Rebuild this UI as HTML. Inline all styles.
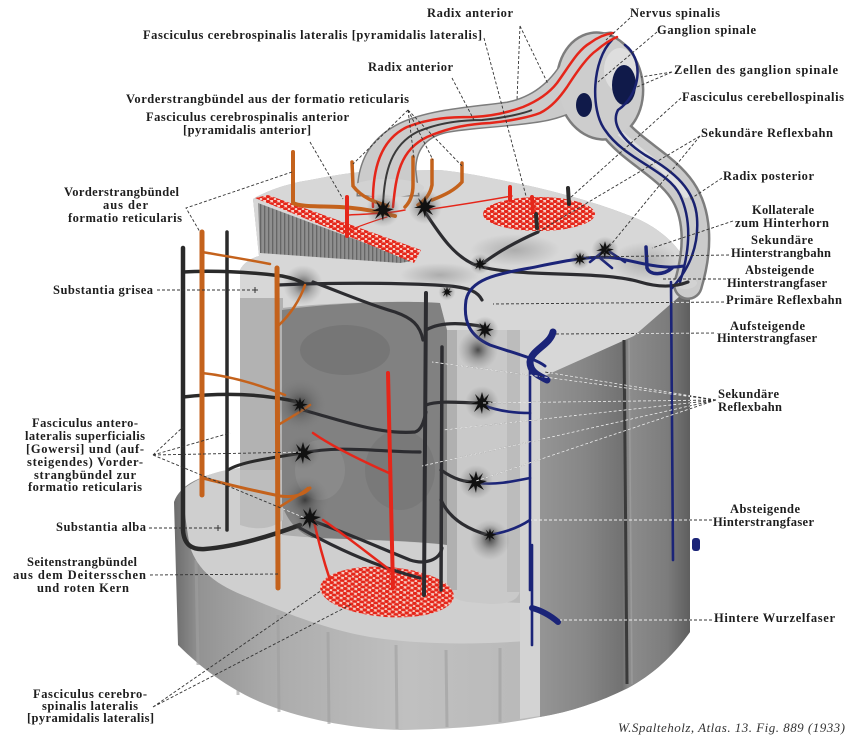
<!DOCTYPE html>
<html><head><meta charset="utf-8">
<style>
html,body{margin:0;padding:0;background:#fff;}
svg{display:block;}
.t{font-family:"Liberation Serif",serif;font-weight:bold;font-size:12.5px;fill:#1e1e1e;}
.it{font-family:"Liberation Serif",serif;font-style:italic;font-size:13px;fill:#333;}
</style></head><body>
<svg width="866" height="739" viewBox="0 0 866 739" xmlns="http://www.w3.org/2000/svg">
<defs>
<pattern id="rd" width="7" height="5" patternUnits="userSpaceOnUse">
<rect width="7" height="5" fill="#f6cfc6"/>
<ellipse cx="2" cy="1.4" rx="2.5" ry="1.7" fill="#e5261a"/>
<ellipse cx="5.5" cy="3.9" rx="2.5" ry="1.7" fill="#e5261a"/>
<ellipse cx="-1.5" cy="3.9" rx="2.5" ry="1.7" fill="#e5261a"/>
</pattern>
<pattern id="st" width="4" height="10" patternUnits="userSpaceOnUse">
<rect width="4" height="10" fill="#8f8f8f"/><rect width="1.3" height="10" fill="#666"/>
</pattern>
<linearGradient id="gs" x1="174" y1="0" x2="690" y2="0" gradientUnits="userSpaceOnUse">
<stop offset="0" stop-color="#6c6c6c"/><stop offset=".05" stop-color="#939393"/>
<stop offset=".18" stop-color="#aaaaaa"/><stop offset=".45" stop-color="#c0c0c0"/>
<stop offset=".7" stop-color="#b9b9b9"/><stop offset="1" stop-color="#888"/>
</linearGradient>
<linearGradient id="gb" x1="540" y1="0" x2="690" y2="0" gradientUnits="userSpaceOnUse">
<stop offset="0" stop-color="#959595"/><stop offset=".3" stop-color="#868686"/>
<stop offset=".55" stop-color="#727272"/><stop offset=".6" stop-color="#8c8c8c"/>
<stop offset=".85" stop-color="#7c7c7c"/><stop offset="1" stop-color="#5e5e5e"/>
</linearGradient>
<radialGradient id="hl"><stop offset="0" stop-color="#2a2a2a" stop-opacity=".8"/><stop offset=".5" stop-color="#555" stop-opacity=".35"/><stop offset="1" stop-color="#777" stop-opacity="0"/></radialGradient>
<radialGradient id="gp"><stop offset="0" stop-color="#8a8a8a" stop-opacity=".55"/><stop offset="1" stop-color="#8a8a8a" stop-opacity="0"/></radialGradient>
<g id="nr"><circle r="17" fill="url(#hl)"/><polygon points="0,-11 2,-4 7,-9 4,-2 11,-1 4,2 8,8 1,4 0,11 -2,4 -8,9 -4,1 -11,1 -4,-2 -7,-9 -2,-4" fill="#111"/></g>
<g id="nh"><circle r="20" fill="url(#hl)"/></g>
<path id="arch" d="M358,195 C358,160 372,138 400,124 C430,110 470,108 507,103 C532,98 550,84 563,62 C575,44 592,34 610,33 L600,95 C580,110 560,118 540,121 C510,126 470,127 445,132 C425,137 415,150 415,170 L418,195 Z"/>
<clipPath id="dk">
<path d="M282,310 C330,303 400,300 440,303 L447,330 L520,330 L540,330 L540,378 L634,336 L688,289 L690,289 L690,632 L540,717 L447,600 L282,536 Z"/>
</clipPath>
</defs>

<!-- body silhouette / lower side face -->
<path d="M174,502 C180,485 200,474 240,468 L240,270 C244,262 252,258 259,256 L253,199 C268,190 290,183 310,180 C335,175 355,172 372,171 L440,170 C470,173 500,180 530,186 C570,195 610,207 640,220 C665,232 682,250 690,270 L690,632 C670,660 650,676 628,688 C600,702 570,712 540,717 C500,725 460,729 400,730 C350,729 300,718 265,704 C235,692 205,672 178,645 Z" fill="url(#gs)"/>
<g stroke="#a0a0a0" stroke-width="3" opacity=".6">
<path d="M196,560 L198,665"/><path d="M237,600 L238,695"/><path d="M278,615 L279,712"/><path d="M328,632 L329,724"/><path d="M396,645 L397,729"/><path d="M446,650 L447,727"/><path d="M500,648 L500,722"/>
</g>
<!-- lower disc top -->
<path d="M182,490 C200,476 220,470 240,468 L282,470 L282,535 C330,540 400,540 447,545 C455,596 470,602 500,602 L540,604 L540,640 C480,645 420,645 370,637 C330,630 290,615 250,598 C215,585 198,570 190,547 C186,525 184,505 182,490 Z" fill="#cfcfcf"/>
<!-- top surface -->
<path d="M253,199 C268,190 290,183 310,180 C335,175 355,172 372,171 L440,170 C470,173 500,180 530,186 C570,195 610,207 640,220 C665,232 682,250 690,270 L690,289 L634,336 L540,378 L520,330 L447,330 L440,303 C400,300 320,303 282,308 L240,300 L240,270 C244,262 252,258 259,256 Z" fill="#d7d7d7"/>
<ellipse cx="515" cy="250" rx="45" ry="16" fill="url(#gp)"/>
<ellipse cx="645" cy="262" rx="35" ry="20" fill="url(#gp)"/>
<ellipse cx="440" cy="275" rx="40" ry="12" fill="url(#gp)"/>
<!-- column side -->
<rect x="240" y="298" width="43" height="172" fill="#b2b2b2"/>
<path d="M240,470 L283,470 L283,520 C270,530 255,530 240,525 Z" fill="#bdbdbd"/>
<!-- dark gray matter -->
<path d="M282,310 C330,303 400,300 440,303 L447,330 L447,545 C420,541 350,539 312,538 C298,532 288,522 282,505 Z" fill="#818181"/>
<ellipse cx="345" cy="350" rx="45" ry="25" fill="#6f6f6f" opacity=".6"/>
<ellipse cx="400" cy="470" rx="35" ry="40" fill="#727272" opacity=".5"/>
<ellipse cx="320" cy="470" rx="25" ry="30" fill="#949494" opacity=".5"/>
<!-- pillar -->
<path d="M447,330 L520,330 L520,588 C520,600 510,604 490,604 L468,602 C454,600 447,594 447,582 Z" fill="#c9c9c9"/>
<rect x="447" y="330" width="10" height="260" fill="#b0b0b0"/>
<rect x="507" y="330" width="13" height="262" fill="#bcbcbc"/>
<polygon points="520,330 540,330 540,716 520,719" fill="#d3d3d3"/>
<!-- right block -->
<path d="M540,378 L634,336 L688,289 L690,289 L690,632 C670,660 650,676 628,688 C600,702 570,712 540,717 Z" fill="url(#gb)"/>
<path d="M624,340 L627,684" stroke="#3a3a3a" stroke-width="3" fill="none"/>
<path d="M629,340 L632,684" stroke="#9a9a9a" stroke-width="1.5" fill="none"/>
<!-- slab face -->
<polygon points="258,203 413,261 400,263 260,253" fill="url(#st)"/>
<polygon points="255,198 268,195 421,250 414,263" fill="url(#rd)"/>

<!-- nerve roots: outlines first -->
<use href="#arch" fill="#cbcbcb" stroke="#7d7d7d" stroke-width="3"/>
<path d="M612,125 C630,150 665,165 682,190 C697,212 700,245 688,285" fill="none" stroke="#7d7d7d" stroke-width="30" stroke-linecap="round"/>
<ellipse cx="600" cy="86" rx="44" ry="55" transform="rotate(-10 600 86)" fill="#7d7d7d"/>
<!-- fills -->
<use href="#arch" fill="#cbcbcb"/>
<path d="M612,125 C630,150 665,165 682,190 C697,212 700,245 688,285" fill="none" stroke="#cbcbcb" stroke-width="25" stroke-linecap="round"/>
<path d="M615,128 C635,150 668,168 686,195" fill="none" stroke="#e0e0e0" stroke-width="6" stroke-linecap="round"/>
<ellipse cx="600" cy="86" rx="41.5" ry="52.5" transform="rotate(-10 600 86)" fill="#cdcdcd"/>
<ellipse cx="620" cy="70" rx="16" ry="22" fill="#dedede"/>
<ellipse cx="388" cy="188" rx="36" ry="9" fill="#d2d2d2"/>
<ellipse cx="685" cy="283" rx="12" ry="6" fill="#d2d2d2"/>
<!-- ganglion cells -->
<ellipse cx="624" cy="85" rx="12" ry="20" fill="#101a4a"/>
<ellipse cx="584" cy="105" rx="8" ry="12" fill="#101a4a"/>
<!-- blue in ganglion / dorsal root -->
<g fill="none" stroke="#1a2270" stroke-width="2.5" stroke-linecap="round">
<path d="M612,40 C592,60 590,110 605,130 C625,160 668,170 680,195 C692,220 690,250 680,282"/>
<path d="M625,45 C645,60 640,95 618,110 C610,125 625,142 645,155 C675,172 695,190 697,218 C699,245 690,268 672,288"/>
</g>
<!-- red in arch -->
<g fill="none" stroke="#e5261a" stroke-width="2.5" stroke-linecap="round">
<path d="M373,207 C372,170 380,140 407,127 C430,118 450,117 473,117 C495,116 512,111 523,107 C540,100 550,92 557,83 C570,65 578,50 590,43 C598,37 606,34 613,33"/>
<path d="M393,207 C396,175 400,150 427,137 C450,127 470,124 490,123 C510,121 530,117 540,113 C552,107 560,97 567,87 C578,70 588,56 597,50 C604,44 610,40 617,37"/>
</g>
<path d="M383,207 C384,170 392,145 417,132 C440,122 465,120 482,120 C505,118 525,113 532,110" fill="none" stroke="#3a3a3a" stroke-width="2"/>

<!-- red ovals -->
<ellipse cx="539" cy="214" rx="56" ry="17" fill="url(#rd)"/>
<ellipse cx="387" cy="592" rx="67" ry="25" transform="rotate(4 387 592)" fill="url(#rd)"/>

<!-- halos -->
<use href="#nh" transform="translate(303,285)"/>
<use href="#nh" transform="translate(300,405) scale(1.3)"/>
<use href="#nh" transform="translate(305,500) scale(1.2)"/>
<use href="#nh" transform="translate(478,350)"/>
<use href="#nh" transform="translate(490,540)"/>

<!-- dark fibers -->
<g fill="none" stroke="#2c2c30" stroke-width="3.2" stroke-linecap="round">
<path d="M425,212 C440,235 455,258 478,266 C520,278 600,270 640,282 C660,288 675,287 688,282"/>
<path d="M538,232 C520,240 500,250 482,264"/>
<path d="M278,285 C320,283 400,282 450,286 C470,288 478,292 482,300"/>
<path d="M313,282 C340,292 370,305 395,312 C412,318 420,325 423,340"/>
<path d="M426,293 L424,595" stroke-width="4"/>
<path d="M442,347 L441,590" stroke-width="3.5"/>
<path d="M426,330 C440,322 460,322 485,327"/>
<path d="M303,410 C340,420 380,435 415,432 C422,430 424,420 426,412"/>
<path d="M303,453 C340,445 380,452 420,452"/>
<path d="M426,405 C440,400 460,403 482,403"/>
<path d="M441,470 C455,480 465,482 476,482"/>
<path d="M310,520 C340,530 380,548 410,560 C425,565 440,560 442,548"/>
<path d="M300,528 C330,545 370,565 420,578"/>
<path d="M441,500 C450,520 470,530 488,535"/>
</g>
<!-- blue fibers -->
<g fill="none" stroke="#1b2478" stroke-width="2.6" stroke-linecap="round">
<path d="M684,266 C660,270 640,262 615,258 C590,255 560,262 530,268 C495,274 470,280 466,300 C463,322 470,336 490,345 C510,352 535,358 545,366" stroke-width="3"/>
<path d="M530,362 L530,590"/>
<path d="M530,413 C510,413 495,410 483,405"/>
<path d="M530,478 C510,482 495,485 478,483"/>
<path d="M530,520 C515,530 500,533 490,535"/>
<path d="M532,545 L532,645"/>
<path d="M671,282 L673,560"/>
<path d="M646,247 L647,268 C650,276 664,275 672,268" stroke-width="3.5"/>
<path d="M605,250 L590,262 M610,252 L625,262 M600,258 L612,268"/>
<path d="M553,332 C550,345 531,350 530,362 C530,373 540,376 547,380" stroke-width="7"/>
<path d="M532,608 C540,610 550,615 558,622" stroke-width="6"/>
</g>
<rect x="692" y="538" width="8" height="13" rx="3" fill="#1b2478"/>
<!-- left black fibers -->
<g fill="none" stroke="#2a2a2a" stroke-linecap="round">
<path d="M183,248 L183,530 C184,545 192,550 205,549 C230,547 260,540 300,525" stroke-width="4.5"/>
<path d="M183,272 C210,270 250,272 282,276 C292,278 298,280 303,283" stroke-width="3.5"/>
<path d="M183,397 C220,393 260,393 298,402" stroke-width="3.5"/>
<path d="M227,232 L227,530" stroke-width="3.5"/>
<path d="M228,470 C240,462 270,458 303,453" stroke-width="3"/>
<path d="M568,188 L569,204" stroke-width="4"/>
<path d="M536,214 L537,228" stroke-width="4"/>
</g>
<!-- orange fibers -->
<g fill="none" stroke="#c4621c" stroke-linecap="round">
<path d="M202,232 L202,495" stroke-width="5"/>
<path d="M202,252 C225,256 250,260 270,264" stroke-width="2.5"/>
<path d="M202,373 C230,376 260,385 285,395" stroke-width="2.5"/>
<path d="M202,478 C220,482 240,488 280,496 C295,498 305,494 310,488" stroke-width="3"/>
<path d="M277,268 L278,588" stroke-width="5"/>
<path d="M278,326 C290,315 300,300 305,285" stroke-width="2.5"/>
<path d="M278,425 C290,418 300,412 310,405" stroke-width="2.5"/>
<path d="M278,508 C290,500 300,495 308,488" stroke-width="2.5"/>
<path d="M293,152 L293,203 C300,207 320,206 340,207 C360,208 380,212 395,216" stroke-width="4"/>
<path d="M352,162 L353,186 C362,198 375,202 388,206" stroke-width="3.5"/>
<path d="M413,157 L413,185 C413,195 410,202 405,207" stroke-width="3.5"/>
<path d="M432,160 L432,185 C430,195 425,200 418,205" stroke-width="3.5"/>
<path d="M462,163 L462,182 C455,190 445,195 432,200" stroke-width="3.5"/>
</g>
<!-- red fibers -->
<g fill="none" stroke="#e5261a" stroke-linecap="round">
<path d="M347,197 L347,236" stroke-width="4"/>
<path d="M347,215 C365,214 385,214 405,210" stroke-width="1.5"/>
<path d="M425,210 C460,205 490,200 512,196" stroke-width="1.5"/>
<path d="M387,217 C370,222 355,228 347,231" stroke-width="1.2"/>
<path d="M510,187 L510,200" stroke-width="4"/>
<path d="M532,197 L533,212" stroke-width="4"/>
<path d="M388,373 L393,588" stroke-width="4"/>
<path d="M389,473 C360,460 330,445 313,433" stroke-width="2.5"/>
<path d="M313,517 C318,540 325,565 330,580" stroke-width="2.5"/>
<path d="M323,520 C345,535 370,555 390,570" stroke-width="2.5"/>
</g>
<!-- neurons -->
<use href="#nr" transform="translate(383,210)"/>
<use href="#nr" transform="translate(425,207)"/>
<use href="#nr" transform="translate(480,264) scale(.6)"/>
<use href="#nr" transform="translate(605,250) scale(.8)"/>
<use href="#nr" transform="translate(580,259) scale(.6)"/>
<use href="#nr" transform="translate(447,292) scale(.5)"/>
<use href="#nr" transform="translate(485,330) scale(.8)"/>
<use href="#nr" transform="translate(300,405) scale(.7)"/>
<use href="#nr" transform="translate(303,453)"/>
<use href="#nr" transform="translate(310,518)"/>
<use href="#nr" transform="translate(482,403)"/>
<use href="#nr" transform="translate(476,482)"/>
<use href="#nr" transform="translate(490,535) scale(.6)"/>

<!-- leader lines -->
<g id="ld" fill="none" stroke-width=".9" stroke-dasharray="3 2">
<path d="M520,26 L517,100 M520,26 L548,84"/>
<path d="M484,38 L526,196"/>
<path d="M452,78 L474,120"/>
<path d="M408,110 L353,164 M408,110 L414,158 M408,110 L433,160 M408,110 L462,166"/>
<path d="M310,142 L343,199"/>
<path d="M292,172 L186,208 L200,232"/>
<path d="M157,290 L255,290"/>
<path d="M153,455 L183,427 M153,455 L230,433 M153,455 L303,452 M153,455 L305,518"/>
<path d="M149,528 L218,528"/>
<path d="M150,575 L278,574"/>
<path d="M153,707 L322,590 M153,707 L352,604"/>
<path d="M630,18 L606,40"/>
<path d="M657,32 L598,82"/>
<path d="M672,72 L641,77 M672,72 L637,87"/>
<path d="M681,98 L570,198"/>
<path d="M700,136 L538,232 M700,136 L604,253"/>
<path d="M722,178 L689,200"/>
<path d="M733,221 L652,248"/>
<path d="M729,255 L580,257"/>
<path d="M726,279 L663,279"/>
<path d="M724,302 L493,304"/>
<path d="M714,333 L555,334"/>
<path d="M716,400 L432,362 M716,400 L545,372 M716,400 L482,403 M716,400 L443,430 M716,400 L422,466 M716,400 L476,481"/>
<path d="M712,520 L531,520"/>
<path d="M712,620 L560,620"/>
</g>
<use href="#ld" stroke="#333"/>
<use href="#ld" stroke="#eeeeee" clip-path="url(#dk)"/>
<g stroke="#333" stroke-width="1"><path d="M252,290 h6 M255,287 v6 M215,528 h6 M218,525 v6"/></g>

<!-- labels -->
<text class="t" x="427" y="17" textLength="86">Radix anterior</text>
<text class="t" x="143" y="39" textLength="339">Fasciculus cerebrospinalis lateralis [pyramidalis lateralis]</text>
<text class="t" x="368" y="71" textLength="85">Radix anterior</text>
<text class="t" x="126" y="103" textLength="283">Vorderstrangbündel aus der formatio reticularis</text>
<text class="t" x="146" y="121" textLength="203">Fasciculus cerebrospinalis anterior</text>
<text class="t" x="183" y="134" textLength="128">[pyramidalis anterior]</text>
<text class="t" x="64" y="196" textLength="115">Vorderstrangbündel</text>
<text class="t" x="103" y="209" textLength="45">aus der</text>
<text class="t" x="68" y="222" textLength="114">formatio reticularis</text>
<text class="t" x="53" y="294" textLength="100">Substantia grisea</text>
<text class="t" x="32" y="427" textLength="106">Fasciculus antero-</text>
<text class="t" x="25" y="440" textLength="120">lateralis superficialis</text>
<text class="t" x="26" y="453" textLength="118">[Gowersi] und (auf-</text>
<text class="t" x="27" y="466" textLength="116">steigendes) Vorder-</text>
<text class="t" x="34" y="479" textLength="102">strangbündel zur</text>
<text class="t" x="28" y="491" textLength="114">formatio reticularis</text>
<text class="t" x="56" y="531" textLength="90">Substantia alba</text>
<text class="t" x="27" y="566" textLength="110">Seitenstrangbündel</text>
<text class="t" x="13" y="579" textLength="133">aus dem Deitersschen</text>
<text class="t" x="37" y="592" textLength="92">und roten Kern</text>
<text class="t" x="33" y="698" textLength="114">Fasciculus cerebro-</text>
<text class="t" x="42" y="710" textLength="96">spinalis lateralis</text>
<text class="t" x="27" y="722" textLength="127">[pyramidalis lateralis]</text>

<text class="t" x="630" y="17" textLength="90">Nervus spinalis</text>
<text class="t" x="657" y="34" textLength="99">Ganglion spinale</text>
<text class="t" x="674" y="74" textLength="164">Zellen des ganglion spinale</text>
<text class="t" x="682" y="101" textLength="162">Fasciculus cerebellospinalis</text>
<text class="t" x="701" y="137" textLength="132">Sekundäre Reflexbahn</text>
<text class="t" x="723" y="180" textLength="91">Radix posterior</text>
<text class="t" x="752" y="214" textLength="62">Kollaterale</text>
<text class="t" x="735" y="227" textLength="94">zum Hinterhorn</text>
<text class="t" x="751" y="244" textLength="62">Sekundäre</text>
<text class="t" x="731" y="257" textLength="100">Hinterstrangbahn</text>
<text class="t" x="745" y="274" textLength="69">Absteigende</text>
<text class="t" x="727" y="287" textLength="100">Hinterstrangfaser</text>
<text class="t" x="726" y="304" textLength="116">Primäre Reflexbahn</text>
<text class="t" x="730" y="330" textLength="75">Aufsteigende</text>
<text class="t" x="717" y="342" textLength="100">Hinterstrangfaser</text>
<text class="t" x="718" y="398" textLength="61">Sekundäre</text>
<text class="t" x="718" y="411" textLength="64">Reflexbahn</text>
<text class="t" x="730" y="513" textLength="70">Absteigende</text>
<text class="t" x="713" y="526" textLength="101">Hinterstrangfaser</text>
<text class="t" x="714" y="622" textLength="121">Hintere Wurzelfaser</text>
<text class="it" x="618" y="732" textLength="227">W.Spalteholz, Atlas. 13. Fig. 889 (1933)</text>
</svg>
</body></html>
